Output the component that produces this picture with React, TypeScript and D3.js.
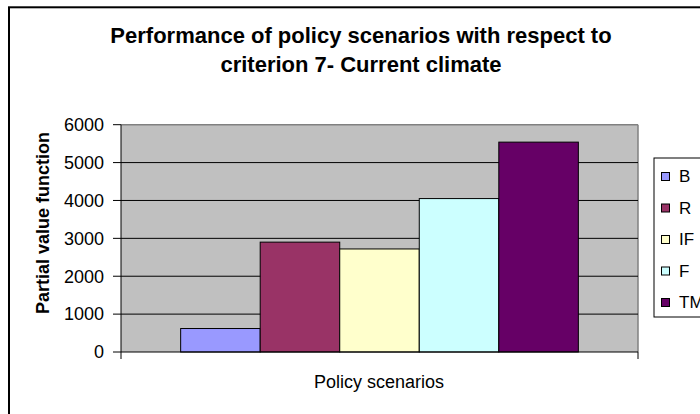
import React from "react";
import * as d3 from "d3";

const categories = ["Policy scenarios"];
const seriesNames = ["B", "R", "IF", "F", "TM"];
const seriesValues = [620, 2900, 2720, 4050, 5540];
const seriesColors = ["#9999FF", "#993366", "#FFFFCC", "#CCFFFF", "#660066"];
const yTicks = [0, 1000, 2000, 3000, 4000, 5000, 6000];
const titleLines = ["Performance of policy scenarios with respect to", "criterion 7- Current climate"];
const yTitle = "Partial value function";

const W = 700;
const H = 414;
const plot = { left: 121, right: 638, top: 124.7, bottom: 352 };
const FONT = "'Liberation Sans', Arial, sans-serif";

export default function App() {
  const y = d3.scaleLinear().domain([0, 6000]).range([plot.bottom, plot.top]);
  const xCat = d3
    .scaleBand<string>()
    .domain(categories)
    .range([plot.left, plot.right])
    .paddingInner(0)
    .paddingOuter(0);
  const groupPad = 0.75; // half of 150% gap width, in bar widths
  const catW = xCat.bandwidth();
  const barW = catW / (seriesNames.length + 2 * groupPad);
  const xSeries = d3
    .scaleBand<string>()
    .domain(seriesNames)
    .range([barW * groupPad, catW - barW * groupPad]);

  const legendTop = 158;
  const legendRow = 31.5;
  const legendFirst = 176.5;

  return (
    <svg
      width={W}
      height={H}
      style={{ position: "absolute", left: 0, top: 0, background: "#fff" }}
      fontFamily={FONT}
    >
      <rect x={9} y={7.3} width={760} height={460} fill="#fff" stroke="#000" strokeWidth={2} />
      {titleLines.map((t, i) => (
        <text
          key={i}
          x={361}
          y={43 + i * 29}
          textAnchor="middle"
          fontSize={22}
          fontWeight="bold"
          fill="#000"
        >
          {t}
        </text>
      ))}
      <rect
        x={plot.left}
        y={plot.top}
        width={plot.right - plot.left}
        height={plot.bottom - plot.top}
        fill="#C0C0C0"
      />
      <line x1={plot.left} x2={plot.right} y1={plot.top} y2={plot.top} stroke="#808080" strokeWidth={1.5} />
      <line x1={plot.right} x2={plot.right} y1={plot.top} y2={plot.bottom} stroke="#808080" strokeWidth={1.5} />
      {yTicks.map((t) => (
        <g key={t}>
          {t > 0 && t < 6000 && (
            <line x1={plot.left} x2={plot.right} y1={y(t)} y2={y(t)} stroke="#000" strokeWidth={1} />
          )}
          <line x1={plot.left - 8} x2={plot.left} y1={y(t)} y2={y(t)} stroke="#000" strokeWidth={1} />
          <text x={104} y={y(t)} dy="0.35em" textAnchor="end" fontSize={18} fill="#000">
            {t}
          </text>
        </g>
      ))}
      {categories.map((c) => (
        <g key={c} transform={`translate(${xCat(c)},0)`}>
          {seriesNames.map((s, i) => (
            <rect
              key={s}
              x={xSeries(s)}
              y={y(seriesValues[i])}
              width={xSeries.bandwidth()}
              height={y(0) - y(seriesValues[i])}
              fill={seriesColors[i]}
              stroke="#000"
              strokeWidth={1}
            />
          ))}
        </g>
      ))}
      <line x1={plot.left} x2={plot.left} y1={plot.top} y2={plot.bottom} stroke="#000" strokeWidth={1} />
      <line x1={plot.left} x2={plot.right} y1={plot.bottom} y2={plot.bottom} stroke="#000" strokeWidth={1} />
      <line x1={plot.left} x2={plot.left} y1={plot.bottom} y2={plot.bottom + 7} stroke="#000" strokeWidth={1} />
      <line x1={plot.right} x2={plot.right} y1={plot.bottom} y2={plot.bottom + 7} stroke="#000" strokeWidth={1} />
      {categories.map((c) => (
        <text
          key={c}
          x={(xCat(c) as number) + catW / 2 - 0.5}
          y={381.7}
          dy="0.35em"
          textAnchor="middle"
          fontSize={18}
          fill="#000"
        >
          {c}
        </text>
      ))}
      <text
        transform={`translate(43,223) rotate(-90)`}
        dy="0.35em"
        textAnchor="middle"
        fontSize={18}
        fontWeight="bold"
        fill="#000"
      >
        {yTitle}
      </text>
      <rect x={654} y={legendTop} width={100} height={317 - legendTop} fill="#fff" stroke="#000" strokeWidth={1} />
      {seriesNames.map((s, i) => {
        const cy = legendFirst + i * legendRow;
        return (
          <g key={s}>
            <rect x={661.5} y={cy - 4} width={8} height={8} fill={seriesColors[i]} stroke="#000" strokeWidth={1} />
            <text x={679} y={cy} dy="0.35em" fontSize={17} fill="#000">
              {s}
            </text>
          </g>
        );
      })}
    </svg>
  );
}
